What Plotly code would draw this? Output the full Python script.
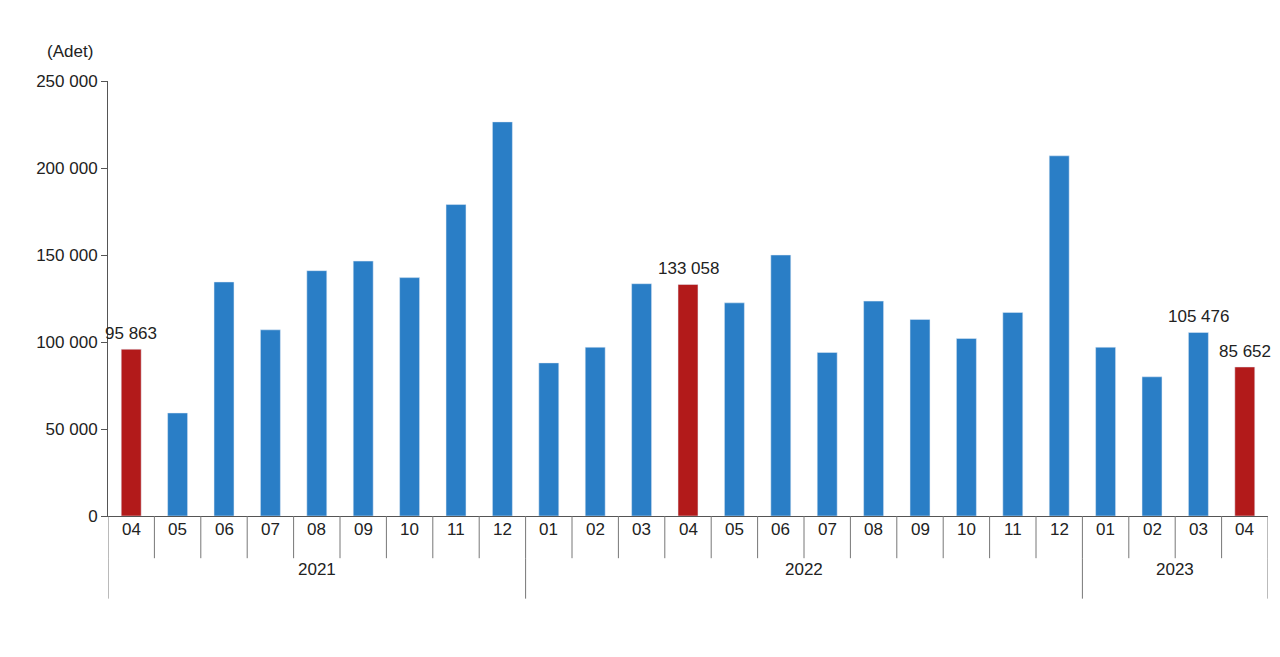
import plotly.graph_objects as go

years = ["2021", "2022", "2023"]
year_counts = [9, 12, 4]
months = ["04", "05", "06", "07", "08", "09", "10", "11", "12",
          "01", "02", "03", "04", "05", "06", "07", "08", "09", "10", "11", "12",
          "01", "02", "03", "04"]
values = [95863, 59200, 134500, 107000, 141000, 146500, 137000, 179000, 226500,
          88000, 97000, 133500, 133058, 122500, 150000, 94000, 123500, 113000, 102000, 117000, 207000,
          97000, 80000, 105476, 85652]
highlight = [0, 12, 24]
labelled = {0: "95 863", 12: "133 058", 23: "105 476", 24: "85 652"}

n = len(values)
xs = list(range(n))
colors = ["#b21a1a" if i in highlight else "#2a7ec6" for i in xs]

fig = go.Figure(go.Bar(x=xs, y=values, marker_color=colors, width=0.43))

annotations = [dict(text="(Adet)", x=-0.033, y=1.094, xref="paper", yref="paper",
                    showarrow=False, xanchor="center", font=dict(size=17))]
for i, t in labelled.items():
    annotations.append(dict(text=t, x=i, y=values[i], xref="x", yref="y", yanchor="bottom",
                            yshift=4, showarrow=False, font=dict(size=17)))
for i, m in enumerate(months):
    annotations.append(dict(text=m, x=i, y=-0.058, xref="x", yref="paper",
                            showarrow=False, font=dict(size=17)))

shapes = []
for i in range(n + 1):
    shapes.append(dict(type="line", xref="x", yref="paper", x0=i - 0.5, x1=i - 0.5,
                       y0=0, y1=-0.097, line=dict(color="#777", width=1)))
start = 0
bounds = [-0.5]
for y, c in zip(years, year_counts):
    annotations.append(dict(text=y, x=start + (c - 1) / 2, y=-0.15, xref="x", yref="paper",
                            showarrow=False, font=dict(size=17)))
    start += c
    bounds.append(start - 0.5)
for b in bounds:
    shapes.append(dict(type="line", xref="x", yref="paper", x0=b, x1=b,
                       y0=-0.097, y1=-0.19, line=dict(color="#777", width=1)))

fig.update_layout(
    width=1280, height=657, plot_bgcolor="white", paper_bgcolor="white",
    margin=dict(l=100, r=20, t=73, b=149),
    font=dict(family="Liberation Sans, Arial", size=17, color="#222"),
    showlegend=False, separators=". ",
    annotations=annotations, shapes=shapes,
)
fig.update_yaxes(range=[0, 250000], dtick=50000, tickformat=",d",
                 showgrid=False, showline=True, linecolor="#555", ticks="outside",
                 ticklen=6, tickcolor="#555", zeroline=False)
fig.update_xaxes(range=[-0.5, n - 0.5], showticklabels=False, showgrid=False,
                 showline=True, linecolor="#555", zeroline=False)

fig.write_html("out.html")
